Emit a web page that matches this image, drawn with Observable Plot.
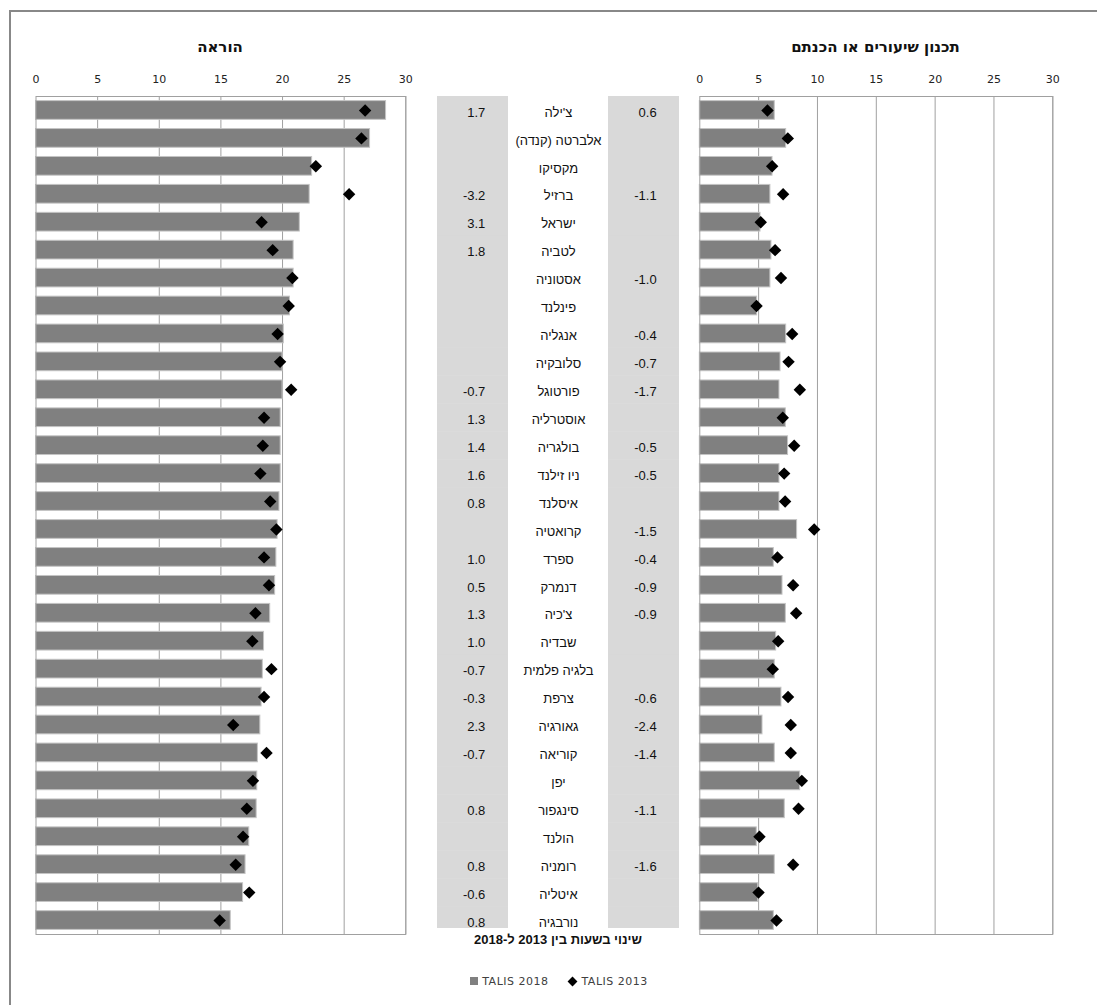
<!DOCTYPE html>
<html>
<head>
<meta charset="utf-8">
<script src="https://cdn.jsdelivr.net/npm/d3@7"></script>
<script src="https://cdn.jsdelivr.net/npm/@observablehq/plot@0.6"></script>
<style>
  html, body { margin: 0; padding: 0; background: white; overflow: hidden; }
  #root { position: relative; width: 1097px; height: 1005px; overflow: hidden; background: white; }
  #root svg { position: absolute; }
  .title { position: absolute; text-align: center; font-family: "DejaVu Sans", sans-serif; font-weight: bold; font-size: 15px; line-height: 18px; color: #111; }
  .sub { position: absolute; text-align: center; font-family: "Liberation Sans", Arial, sans-serif; font-weight: bold; font-size: 13px; line-height: 16px; color: #111; }
  .legend { position: absolute; text-align: center; font-family: "DejaVu Sans", sans-serif; font-size: 11px; letter-spacing: 0.5px; line-height: 16px; color: #404040; white-space: nowrap; }
  .sw { display: inline-block; vertical-align: middle; }
</style>
</head>
<body>
<div id="root">
  <div style="position:absolute;left:9px;top:10px;width:1200px;height:1100px;border-left:2px solid #888;border-top:2px solid #888;"></div>
  <div class="title" dir="rtl" style="left:35px;top:38px;width:370px;">הוראה</div>
  <div class="title" dir="rtl" style="left:699px;top:38px;width:353px;">תכנון שיעורים או הכנתם</div>
  <div class="sub" dir="rtl" style="left:437px;top:932px;width:242px;">שינוי בשעות בין 2013 ל-2018</div>
  <div class="legend" style="left:437px;top:974px;width:244px;">
    <span class="sw" style="width:8px;height:8px;background:#808080;margin-right:4px;margin-top:-2px;"></span>TALIS 2018<span style="display:inline-block;width:20px;"></span><span class="sw" style="width:7px;height:7px;background:#000;transform:rotate(45deg);margin-right:6px;margin-top:-2px;"></span>TALIS 2013
  </div>
</div>
<script>
const countries = ["צ'ילה","אלברטה (קנדה)","מקסיקו","ברזיל","ישראל","לטביה","אסטוניה","פינלנד","אנגליה","סלובקיה","פורטוגל","אוסטרליה","בולגריה","ניו זילנד","איסלנד","קרואטיה","ספרד","דנמרק","צ'כיה","שבדיה","בלגיה פלמית","צרפת","גאורגיה","קוריאה","יפן","סינגפור","הולנד","רומניה","איטליה","נורבגיה"];

const teaching2018 = [28.4,27.1,22.4,22.2,21.4,20.9,20.9,20.6,20.1,20.0,20.0,19.85,19.85,19.85,19.75,19.6,19.5,19.4,19.0,18.5,18.4,18.3,18.2,18.0,17.95,17.9,17.3,17.0,16.8,15.8];
const teaching2013 = [26.7,26.4,22.7,25.4,18.3,19.2,20.8,20.5,19.6,19.8,20.7,18.5,18.4,18.2,19.0,19.5,18.5,18.9,17.8,17.55,19.1,18.5,16.0,18.7,17.6,17.1,16.8,16.2,17.3,14.9];

const planning2018 = [6.37,7.34,6.18,6.0,5.16,6.09,6.0,4.87,7.34,6.86,6.77,7.31,7.5,6.77,6.77,8.27,6.29,7.03,7.31,6.49,6.37,6.94,5.33,6.37,8.53,7.22,4.84,6.37,4.96,6.29];
const planning2013 = [5.75,7.48,6.15,7.08,5.18,6.4,6.9,4.82,7.85,7.54,8.5,7.05,8.02,7.17,7.25,9.72,6.6,7.93,8.19,6.66,6.2,7.5,7.73,7.73,8.67,8.39,5.07,7.93,4.99,6.52];

const changeTeaching = [1.7,null,null,-3.2,3.1,1.8,null,null,null,null,-0.7,1.3,1.4,1.6,0.8,null,1.0,0.5,1.3,1.0,-0.7,-0.3,2.3,-0.7,null,0.8,null,0.8,-0.6,0.8];
const changePlanning = [0.6,null,null,-1.1,null,null,-1.0,null,-0.4,-0.7,-1.7,null,-0.5,-0.5,null,-1.5,-0.4,-0.9,-0.9,null,null,-0.6,-2.4,-1.4,null,-1.1,null,-1.6,null,null];

const xTicks = [0,5,10,15,20,25,30];

const rows = countries.map((c, i) => ({
  country: c,
  t18: teaching2018[i], t13: teaching2013[i],
  p18: planning2018[i], p13: planning2013[i],
  dt: changeTeaching[i], dp: changePlanning[i]
}));

const root = document.getElementById("root");

function panel(v18, v13, left, width, marginLeft, marginRight) {
  const svg = Plot.plot({
    width, height: 890,
    marginTop: 36, marginBottom: 16, marginLeft, marginRight,
    x: {domain: [0, 30]},
    y: {domain: countries, axis: null, paddingInner: 0.33, paddingOuter: 0.165, round: false},
    style: {fontFamily: "DejaVu Sans, sans-serif", fontSize: "11px", color: "#222", background: "transparent", overflow: "visible"},
    marks: [
      Plot.ruleX(xTicks.slice(1), {stroke: "#a0a0a0", strokeOpacity: 1}),
      Plot.barX(rows, {x: v18, y: "country", fill: "#808080", stroke: "#c4c4c4", strokeWidth: 1}),
      Plot.frame({stroke: "#a0a0a0"}),
      Plot.dot(rows, {x: v13, y: "country", symbol: "diamond2", r: 5.6, fill: "#000", stroke: "none"}),
      Plot.axisX(xTicks, {anchor: "top", tickSize: 0, tickPadding: 14, label: null, tickFormat: d => String(d)})
    ]
  });
  svg.style.left = left + "px";
  svg.style.top = "60px";
  root.appendChild(svg);
}

panel("t18", "t13", 0, 430, 35.5, 24.7);
panel("p18", "p13", 680, 417, 19.3, 44.7);

const bodyRows = rows.slice(0, -1);
const lastRow = rows.slice(-1);
const cellOpts = (col, extra) => Object.assign({x: () => col, y: "country", fill: "#d9d9d9", insetTop: 0},
  col === "t" ? {insetLeft: 0, insetRight: 9.67} : {insetLeft: 9.67, insetRight: 0}, extra);

const mid = Plot.plot({
  width: 260, height: 890,
  marginTop: 36, marginBottom: 16, marginLeft: 7, marginRight: 11,
  x: {type: "band", domain: ["t", "n", "p"], axis: null, padding: 0, round: false},
  y: {domain: countries, axis: null, padding: 0, round: false},
  style: {fontFamily: "Liberation Sans, Arial, sans-serif", fontSize: "13px", color: "#111", background: "transparent", overflow: "visible"},
  marks: [
    Plot.cell(bodyRows, cellOpts("t", {insetBottom: -0.5})),
    Plot.cell(bodyRows, cellOpts("p", {insetBottom: -0.5})),
    Plot.cell(lastRow, cellOpts("t", {insetBottom: 6})),
    Plot.cell(lastRow, cellOpts("p", {insetBottom: 6})),
    Plot.text(rows.filter(d => d.dt != null), {x: () => "t", y: "country", text: d => d.dt.toFixed(1), textAnchor: "end", dx: 7.5, dy: 2}),
    Plot.text(rows.filter(d => d.dp != null), {x: () => "p", y: "country", text: d => d.dp.toFixed(1), textAnchor: "end", dx: 17.5, dy: 2}),
    Plot.text(rows, {x: () => "n", y: "country", text: "country", dy: 2, ariaLabel: "names"})
  ]
});
d3.select(mid).selectAll('g[aria-label="names"] text').attr("direction", "rtl").style("unicode-bidi", "embed");
mid.style.left = "430px";
mid.style.top = "60px";
root.appendChild(mid);
</script>
</body>
</html>
